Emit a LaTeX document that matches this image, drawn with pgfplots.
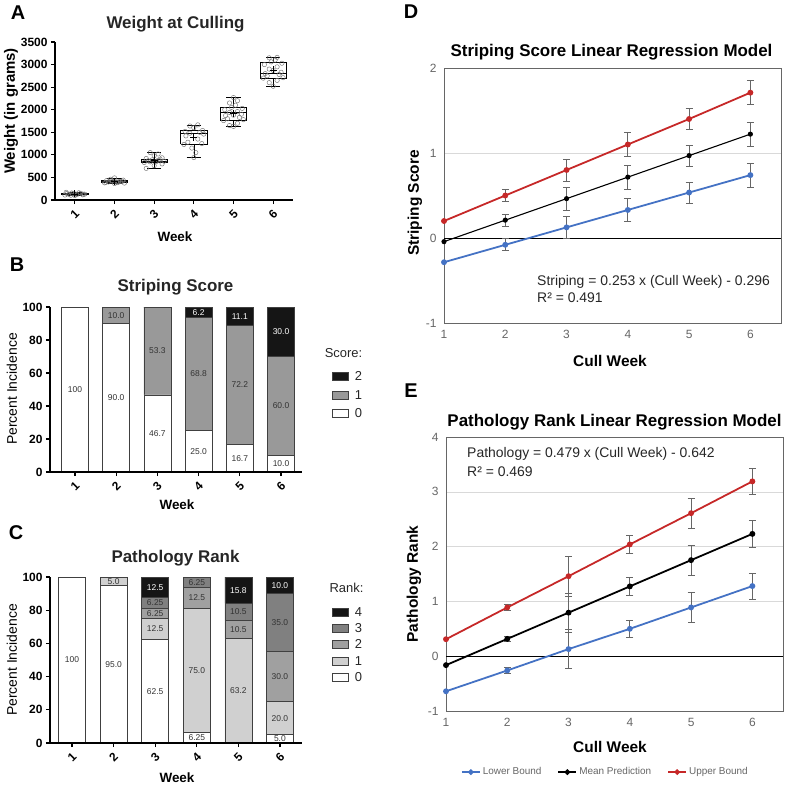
\documentclass[border=0pt]{standalone}
\usepackage{fontspec}
\setmainfont{Liberation Sans}
\usepackage{pgfplots}
\pgfplotsset{compat=1.18}
\definecolor{redl}{HTML}{C62828}
\definecolor{bluel}{HTML}{4472C4}
\definecolor{rkthree}{HTML}{808080}
\definecolor{rktwo}{HTML}{A0A0A0}
\definecolor{rkone}{HTML}{D0D0D0}
\definecolor{scone}{HTML}{999999}
\definecolor{dk}{HTML}{151515}
\newcommand\F[1]{\fontsize{#1}{#1}\selectfont}
% bar value label at absolute picture position (px from top-left)
\newcommand\bl[4][black!80]{\node[font=\F{8.5},text=#1,inner sep=0pt,anchor=center] at (#2bp,-#3bp) {#4};}
% box: position, lower whisker, lower quartile, median, upper quartile, upper whisker
\newcommand\bx[6]{%
  \pgfmathsetmacro\xa{#1-0.33}\pgfmathsetmacro\xb{#1+0.33}%
  \pgfmathsetmacro\xc{#1-0.18}\pgfmathsetmacro\xd{#1+0.18}%
  \addplot[black, line width=0.6pt] coordinates {(\xa,#3)(\xb,#3)(\xb,#5)(\xa,#5)(\xa,#3)};
  \addplot[black, line width=0.6pt] coordinates {(\xa,#4)(\xb,#4)};
  \addplot[black, line width=0.6pt] coordinates {(#1,#2)(#1,#3)};
  \addplot[black, line width=0.6pt] coordinates {(#1,#5)(#1,#6)};
  \addplot[black, line width=0.6pt] coordinates {(\xc,#2)(\xd,#2)};
  \addplot[black, line width=0.6pt] coordinates {(\xc,#6)(\xd,#6)};
}
\pgfplotsset{
  gp/.style={scale only axis, axis lines=left, axis line style={-, line width=1.1pt},
    axis on top,
    tick align=outside, major tick length=4bp, tick style={black, line width=1.1pt},
    ticklabel style={font=\F{12}\bfseries},
    /pgf/number format/assume math mode=true, /pgf/number format/1000 sep={},
    xtick={1,...,6}, xticklabel style={rotate=45},
    clip=false},
  sbar/.style={stack plots=y,
    every axis plot/.append style={ybar, bar width=27bp, bar shift=0pt, draw=black!75, line width=0.6pt}},
  xl/.style={scale only axis, xmin=1, xmax=6.5, xtick={1,...,6},
    ymajorgrids, grid style={black!15, line width=0.6pt},
    axis line style={black!60, line width=0.8pt}, major tick length=0pt,
    ticklabel style={font=\F{12}, text=black!60},
    /pgf/number format/assume math mode=true,
    yticklabel style={xshift=-4bp}, xticklabel style={yshift=-4bp},
    clip=false},
  eb/.style={draw=none, forget plot, error bars/.cd, y dir=both, y explicit,
    error bar style={line width=0.8pt, black!60},
    error mark options={rotate=90, mark size=3.5bp, line width=0.8pt, black!60}},
}
\begin{document}
\begin{tikzpicture}
\useasboundingbox (0,0) rectangle (785bp,-786bp);
% ---------------- Panel A
\begin{axis}[gp, at={(55bp,-200bp)}, anchor=south west, width=238bp, height=158bp,
  xmin=0.5, xmax=6.5, ymin=0, ymax=3500, ytick={0,500,...,3500}]
\addplot[only marks, mark=o, mark size=2.2bp, black!55, mark options={line width=0.45pt}] coordinates {
(0.75,110)(0.85,125)(0.95,140)(1.05,120)(1.15,150)(1.25,130)(0.8,145)(0.9,105)(1.0,135)(1.1,160)(1.2,115)(0.78,170)(1.22,128)(1.0,100)(0.92,155)
(1.75,380)(1.85,400)(1.95,420)(2.05,395)(2.15,410)(2.25,375)(1.8,430)(1.9,460)(2.0,490)(2.1,405)(2.2,415)(1.78,390)(2.22,440)(2.0,365)(1.92,425)(2.08,385)
(2.8,700)(3.0,760)(3.2,800)(2.75,830)(2.9,845)(3.05,850)(3.25,860)(2.85,870)(3.1,880)(2.95,890)(3.15,905)(2.8,920)(3.0,980)(3.1,1020)(2.9,1050)(3.2,935)
(4.0,940)(4.05,1050)(3.95,1150)(3.75,1230)(4.2,1250)(3.85,1280)(4.1,1350)(3.8,1420)(4.25,1460)(3.9,1480)(4.15,1500)(3.78,1520)(4.22,1540)(4.0,1600)(3.9,1640)(4.1,1665)
(5.0,1630)(4.9,1650)(5.1,1700)(4.75,1760)(5.25,1780)(4.85,1800)(5.15,1830)(4.8,1870)(5.0,1880)(5.2,1900)(4.9,1940)(5.1,1960)(4.78,2000)(5.22,2030)(4.95,2050)(5.05,2100)(4.9,2150)(5.1,2200)(5.0,2270)
(6.0,2520)(5.9,2600)(6.1,2650)(5.75,2700)(6.25,2710)(5.85,2750)(6.15,2780)(5.8,2800)(6.2,2830)(6.0,2870)(5.9,2900)(6.1,2950)(5.78,3000)(6.22,3030)(5.95,3060)(6.05,3100)(5.9,3150)(6.1,3160)};
\bx{1}{100}{118}{132}{148}{170}
\bx{2}{365}{390}{410}{430}{490}
\bx{3}{700}{830}{865}{910}{1050}
\bx{4}{940}{1235}{1470}{1535}{1665}
\bx{5}{1630}{1760}{1935}{2045}{2270}
\bx{6}{2520}{2695}{2805}{3040}{3160}
\addplot[only marks, mark=+, mark size=3.5bp, black, mark options={line width=0.9pt}] coordinates {(1,133)(2,412)(3,870)(4,1380)(5,1910)(6,2880)};
\end{axis}
% ---------------- Panel B
\begin{axis}[gp, sbar, at={(50bp,-472bp)}, anchor=south west, width=252bp, height=165bp,
  xmin=0.393, xmax=6.51, ymin=0, ymax=100, ytick={0,20,...,100},
  legend style={draw=none, fill=none, at={(1.119,0.62)}, anchor=north west,
    font=\F{13}, text=black!85, row sep=4bp, inner sep=0pt, cells={anchor=west},
    /tikz/every odd column/.append style={column sep=4bp}},
  legend image code/.code={\draw[#1, draw=black!75, line width=0.6pt] (0bp,-3.5bp) rectangle (16bp,4.5bp);},
  reverse legend]
\addplot[fill=white] coordinates {(1,100)(2,90)(3,46.7)(4,25)(5,16.7)(6,10)};
\addplot[fill=scone] coordinates {(1,0)(2,10)(3,53.3)(4,68.8)(5,72.2)(6,60)};
\addplot[fill=dk] coordinates {(1,0)(2,0)(3,0)(4,6.2)(5,11.1)(6,30)};
\legend{0,1,2}
\end{axis}
% ---------------- Panel C
\begin{axis}[gp, sbar, at={(50bp,-743bp)}, anchor=south west, width=252bp, height=166bp,
  xmin=0.47, xmax=6.53, ymin=0, ymax=100, ytick={0,20,...,100},
  legend style={draw=none, fill=none, at={(1.119,0.83)}, anchor=north west,
    font=\F{13}, text=black!85, row sep=1.8bp, inner sep=0pt, cells={anchor=west},
    /tikz/every odd column/.append style={column sep=4bp}},
  legend image code/.code={\draw[#1, draw=black!75, line width=0.6pt] (0bp,-3.5bp) rectangle (16bp,4.5bp);},
  reverse legend]
\addplot[fill=white] coordinates {(1,100)(2,95)(3,62.5)(4,6.25)(5,0)(6,5)};
\addplot[fill=rkone] coordinates {(1,0)(2,5)(3,12.5)(4,75)(5,63.2)(6,20)};
\addplot[fill=rktwo] coordinates {(1,0)(2,0)(3,6.25)(4,12.5)(5,10.5)(6,30)};
\addplot[fill=rkthree] coordinates {(1,0)(2,0)(3,6.25)(4,6.25)(5,10.5)(6,35)};
\addplot[fill=dk] coordinates {(1,0)(2,0)(3,12.5)(4,0)(5,15.8)(6,10)};
\legend{0,1,2,3,4}
\end{axis}
% ---------------- Panel D
\begin{axis}[xl, at={(444bp,-323bp)}, anchor=south west, width=337bp, height=255bp,
  ymin=-1, ymax=2, ytick={-1,0,1,2}]
\addplot[black, line width=0.9pt, forget plot] coordinates {(1,0)(6.5,0)};
\addplot[eb] coordinates {(2,-0.08) +- (0,0.07) (3,0.125) +- (0,0.13) (4,0.33) +- (0,0.14) (5,0.535) +- (0,0.125) (6,0.74) +- (0,0.14)};
\addplot[eb] coordinates {(2,0.21) +- (0,0.07) (3,0.463) +- (0,0.135) (4,0.716) +- (0,0.14) (5,0.969) +- (0,0.125) (6,1.222) +- (0,0.14)};
\addplot[eb] coordinates {(2,0.5) +- (0,0.07) (3,0.8) +- (0,0.13) (4,1.1) +- (0,0.14) (5,1.4) +- (0,0.12) (6,1.71) +- (0,0.14)};
\addplot[bluel, line width=1.8pt, mark=*, mark size=2bp] coordinates {(1,-0.285)(2,-0.08)(3,0.125)(4,0.33)(5,0.535)(6,0.74)};
\addplot[black, line width=1.1pt, mark=*, mark size=2bp] coordinates {(1,-0.043)(2,0.21)(3,0.463)(4,0.716)(5,0.969)(6,1.222)};
\addplot[redl, line width=1.8pt, mark=*, mark size=2bp] coordinates {(1,0.2)(2,0.5)(3,0.8)(4,1.1)(5,1.4)(6,1.71)};
\end{axis}
% ---------------- Panel E
\begin{axis}[xl, at={(446bp,-711bp)}, anchor=south west, width=337bp, height=274bp,
  ymin=-1, ymax=4, ytick={-1,0,1,2,3,4},
  legend columns=3,
  legend style={draw=none, fill=none, at={(0.473,-0.223)}, anchor=center,
    font=\F{10}, text=black!60, inner sep=0pt,
    /tikz/every even column/.append style={column sep=14bp}},
  legend image code/.code={\draw[mark repeat=2, mark phase=2, #1, mark size=1.8bp] plot coordinates {(0bp,0bp) (9bp,0bp) (18bp,0bp)};}]
\addplot[black, line width=0.9pt, forget plot] coordinates {(1,0)(6.5,0)};
\addplot[eb] coordinates {(2,-0.26) +- (0,0.05) (3,0.13) +- (0,0.36) (4,0.50) +- (0,0.16) (5,0.89) +- (0,0.27) (6,1.28) +- (0,0.24)};
\addplot[eb] coordinates {(2,0.316) +- (0,0.04) (3,0.795) +- (0,0.36) (4,1.274) +- (0,0.16) (5,1.753) +- (0,0.27) (6,2.232) +- (0,0.24)};
\addplot[eb] coordinates {(2,0.89) +- (0,0.05) (3,1.46) +- (0,0.36) (4,2.04) +- (0,0.16) (5,2.61) +- (0,0.27) (6,3.19) +- (0,0.24)};
\addplot[bluel, line width=1.8pt, mark=*, mark size=2bp] coordinates {(1,-0.64)(2,-0.26)(3,0.13)(4,0.50)(5,0.89)(6,1.28)};
\addlegendentry{Lower Bound}
\addplot[black, line width=1.8pt, mark=*, mark size=2bp] coordinates {(1,-0.163)(2,0.316)(3,0.795)(4,1.274)(5,1.753)(6,2.232)};
\addlegendentry{Mean Prediction}
\addplot[redl, line width=1.8pt, mark=*, mark size=2bp] coordinates {(1,0.31)(2,0.89)(3,1.46)(4,2.04)(5,2.61)(6,3.19)};
\addlegendentry{Upper Bound}
\end{axis}
% ---------------- bar value labels (B)
\bl{75.0}{389.5}{100}
\bl{116.2}{397.75}{90.0}\bl{116.2}{315.25}{10.0}
\bl{157.4}{433.5}{46.7}\bl{157.4}{351.0}{53.3}
\bl{198.6}{451.4}{25.0}\bl{198.6}{374.0}{68.8}\bl[white]{198.6}{312.1}{6.2}
\bl{239.8}{458.2}{16.7}\bl{239.8}{384.9}{72.2}\bl[white]{239.8}{316.2}{11.1}
\bl{281.0}{463.75}{10.0}\bl{281.0}{406.0}{60.0}\bl[white]{281.0}{331.75}{30.0}
% ---------------- bar value labels (C)
\bl{72.0}{660}{100}
\bl{113.6}{664.15}{95.0}\bl{113.6}{581.15}{5.0}
\bl{155.2}{691.1}{62.5}\bl{155.2}{628.9}{12.5}\bl{155.2}{613.3}{6.25}\bl{155.2}{603.0}{6.25}\bl[white]{155.2}{587.4}{12.5}
\bl{196.8}{737.8}{6.25}\bl{196.8}{670.4}{75.0}\bl{196.8}{597.75}{12.5}\bl{196.8}{582.2}{6.25}
\bl{238.3}{690.5}{63.2}\bl{238.3}{629.4}{10.5}\bl{238.3}{611.9}{10.5}\bl[white]{238.3}{590.1}{15.8}
\bl{279.9}{738.85}{5.0}\bl{279.9}{718.1}{20.0}\bl{279.9}{676.6}{30.0}\bl{279.9}{622.65}{35.0}\bl[white]{279.9}{585.3}{10.0}
% ---------------- Text
\begin{scope}[every node/.style={inner sep=0pt, anchor=center}]
\node[font=\F{20}\bfseries] at (18bp,-13bp) {A};
\node[font=\F{20}\bfseries] at (17bp,-265bp) {B};
\node[font=\F{20}\bfseries] at (16bp,-533bp) {C};
\node[font=\F{20}\bfseries] at (411bp,-12bp) {D};
\node[font=\F{20}\bfseries] at (411bp,-391bp) {E};
\node[font=\F{17}\bfseries, text=black!85] at (175.5bp,-24bp) {Weight at Culling};
\node[font=\F{17}\bfseries, text=black!85] at (175.5bp,-287bp) {Striping Score};
\node[font=\F{17}\bfseries, text=black!85] at (175.5bp,-558bp) {Pathology Rank};
\node[font=\F{17}\bfseries] at (611.5bp,-52bp) {Striping Score Linear Regression Model};
\node[font=\F{17}\bfseries] at (614.5bp,-422bp) {Pathology Rank Linear Regression Model};
\node[font=\F{15}\bfseries, rotate=90] at (11bp,-111bp) {Weight (in grams)};
\node[font=\F{13.5}\bfseries] at (175bp,-237bp) {Week};
\node[font=\F{14}, rotate=90] at (12bp,-389bp) {Percent Incidence};
\node[font=\F{13.5}\bfseries] at (177bp,-505bp) {Week};
\node[font=\F{14}, rotate=90] at (12bp,-660bp) {Percent Incidence};
\node[font=\F{13.5}\bfseries] at (177bp,-778bp) {Week};
\node[font=\F{13}, text=black!85] at (343.5bp,-353bp) {Score:};
\node[font=\F{13}, text=black!85] at (346.5bp,-588bp) {Rank:};
\node[font=\F{15.5}\bfseries, rotate=90] at (415bp,-203bp) {Striping Score};
\node[font=\F{15.5}\bfseries] at (610bp,-361bp) {Cull Week};
\node[font=\F{15.5}\bfseries, rotate=90] at (414bp,-584bp) {Pathology Rank};
\node[font=\F{15.5}\bfseries] at (610bp,-747bp) {Cull Week};
\node[font=\F{14}, anchor=west, text=black!85] at (537bp,-282bp) {Striping = 0.253 x (Cull Week) - 0.296};
\node[font=\F{14}, anchor=west, text=black!85] at (537bp,-298bp) {R² = 0.491};
\node[font=\F{14}, anchor=west, text=black!85] at (467bp,-454bp) {Pathology = 0.479 x (Cull Week) - 0.642};
\node[font=\F{14}, anchor=west, text=black!85] at (467bp,-472bp) {R² = 0.469};
\end{scope}
\end{tikzpicture}
\end{document}
